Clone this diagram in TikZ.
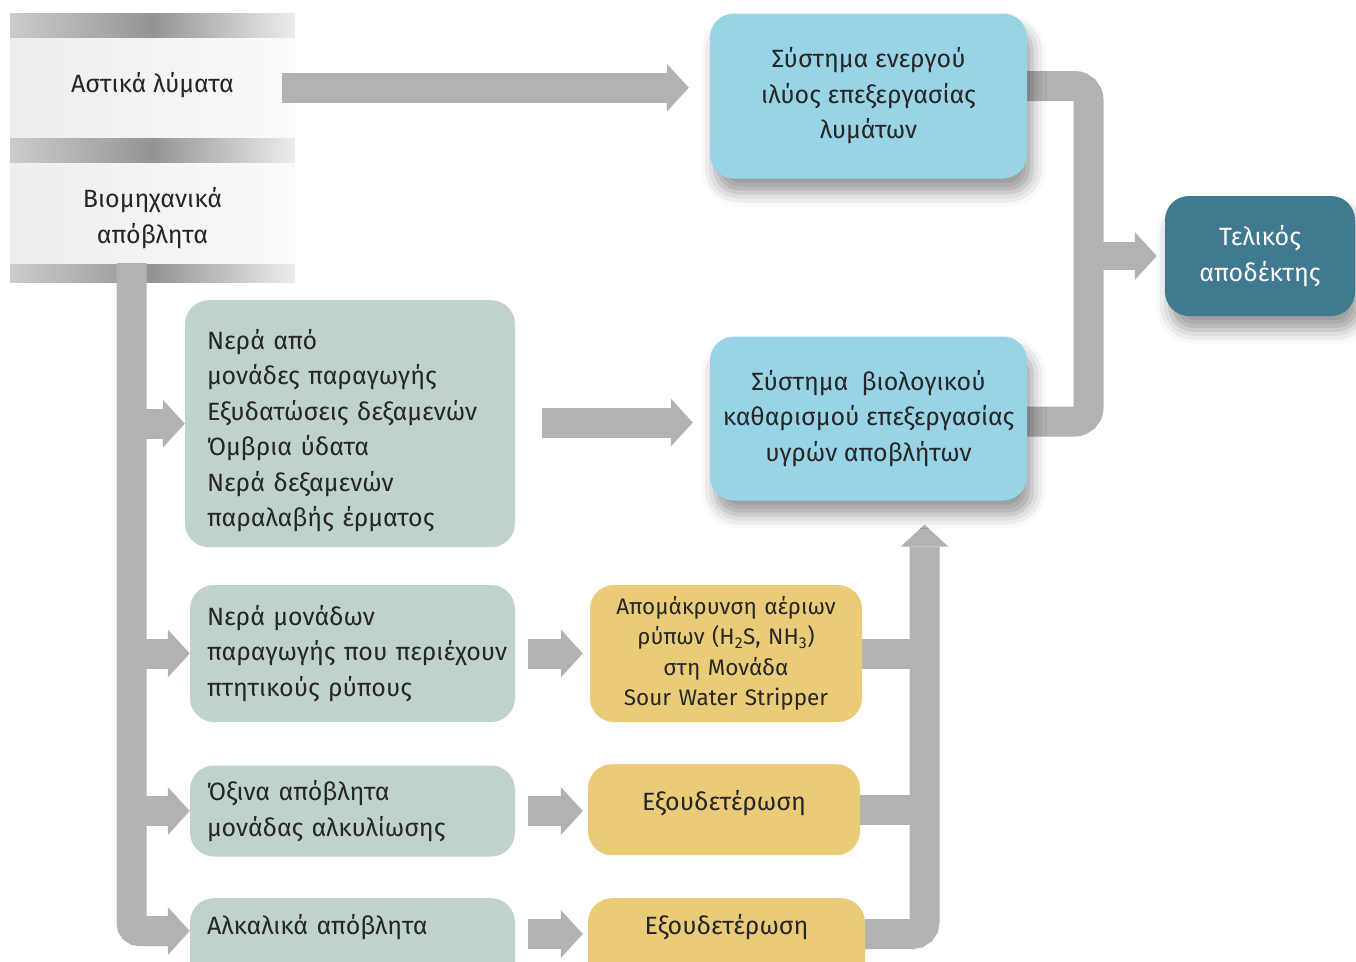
\documentclass[tikz,border=0pt]{standalone}
\usepackage{fontspec}
\setmainfont{Fira Sans}
\usetikzlibrary{arrows.meta,shadows.blur,calc}

\definecolor{conn}{HTML}{B1B2B4}
\definecolor{sage}{HTML}{BFD3CC}
\definecolor{sand}{HTML}{E9CB78}
\definecolor{sky}{HTML}{99D4E6}
\definecolor{teal}{HTML}{3F7A91}
\definecolor{ink}{HTML}{262626}

\pgfdeclarelayer{bg}
\pgfsetlayers{bg,main}

\newcommand\mainsize{\fontsize{25}{35.5}\selectfont}
\newcommand\smallsize{\fontsize{22.5}{30.5}\selectfont}

\tikzset{
  box/.style={rounded corners=24pt, inner ysep=0pt, text=ink, font=\mainsize},
  greenbox/.style={box, fill=sage, align=left, inner xsep=17pt},
  sandbox/.style={box, fill=sand, align=center, inner xsep=8pt, font=\smallsize},
  skybox/.style={box, fill=sky, align=center, inner xsep=8pt,
    blur shadow={shadow xshift=5pt, shadow yshift=-14pt, shadow blur radius=14pt, shadow opacity=40}},
  endbox/.style={skybox, fill=teal, text=white},
  panel/.style={left color=black!7, right color=black!2, inner sep=0pt,
    minimum width=285pt, text=ink, font=\mainsize, align=center, anchor=north},
  band/.style={left color=black!20, right color=black!7, middle color=black!42},
  flow/.style={draw=conn, line width=30pt},
  headed/.style={-{Triangle[width=48pt,length=22pt,line width=0pt]}},
  opentop/.style={text height=28pt, text depth=56pt, inner ysep=8pt}
}

\begin{document}
\begin{tikzpicture}[x=1pt,y=-1pt]
\useasboundingbox (0,0) rectangle (1356,961);

% treatment systems and final receiver
\node[skybox, minimum width=317pt, minimum height=165pt] (b1) at (868.5,96)
  {Σύστημα ενεργού\\ιλύος επεξεργασίας\\λυμάτων};
\node[skybox, minimum width=317pt, minimum height=164pt] (b2) at (868.5,418.5)
  {Σύστημα~ βιολογικού\\καθαρισμού επεξεργασίας\\υγρών αποβλήτων};
\node[endbox, minimum width=190pt, minimum height=120pt] (f) at (1260,256)
  {Τελικός\\αποδέκτης};

% industrial streams
\node[greenbox, text width=286pt, inner xsep=22pt, text height=49pt, text depth=198pt, anchor=north] (g1) at (350,300)
  {Νερά από\\μονάδες παραγωγής\\Εξυδατώσεις δεξαμενών\\Όμβρια ύδατα\\Νερά δεξαμενών\\παραλαβής έρματος};
\node[greenbox, text width=291pt, minimum height=137pt] (g2) at (352.5,653.5)
  {Νερά μονάδων\\\mbox{παραγωγής που περιέχουν}\\πτητικούς ρύπους};
\node[greenbox, text width=291pt, minimum height=91pt] (g3) at (352.5,811)
  {Όξινα απόβλητα\\μονάδας αλκυλίωσης};
\node[greenbox, opentop, text width=291pt, anchor=north] (g4) at (352.5,898)
  {Αλκαλικά απόβλητα};

% pre-treatment units
\node[sandbox, text width=256pt, minimum height=137pt] (y1) at (726,653.5)
  {Απομάκρυνση αέριων\\ρύπων (H\textsubscript{2}S, NH\textsubscript{3})\\στη Μονάδα\\Sour Water Stripper};
\node[sandbox, text width=256pt, text height=38pt, text depth=37pt, inner ysep=8pt, anchor=north, font=\mainsize] (y2) at (724,764)
  {Εξουδετέρωση};
\node[sandbox, opentop, text width=261pt, anchor=north, font=\mainsize] (y3) at (726.5,898)
  {Εξουδετέρωση};

\coordinate (trunk) at (131.5,263);
\coordinate (jl) at (131.5,931);
\coordinate (jb) at (924.5,934);
\coordinate (jr) at (1088.5,256);

\begin{pgfonlayer}{bg}
  % sources
  \fill[band] (10,13) rectangle (295,38);
  \fill[band] (10,137) rectangle (295,163);
  \fill[band] (10,263) rectangle (295,282);
  \node[panel, text height=54pt, text depth=45pt] (u) at (152.5,38) {Αστικά λύματα};
  \node[panel, text height=80pt, text depth=20pt] (ind) at (152.5,163) {Βιομηχανικά\\απόβλητα};

  % flows
  \draw[flow, headed, shorten <=-13pt, shorten >=21pt] (u.east) -- (u.east -| b1.west);
  \draw[flow, headed, shorten <=27pt, shorten >=17pt] (g1.east |- b2.west) ++(0,4) coordinate (m1) -- (m1 -| b2.west);

  \draw[flow, rounded corners=8pt, headed] (trunk) |- (jl -| g4.west);
  \draw[flow, headed] (trunk |- g1.west) -- (g1.west);
  \draw[flow, headed] (trunk |- g2.west) -- (g2.west);
  \draw[flow, headed] (trunk |- g3.west) -- (g3.west);

  \draw[flow, headed, shorten <=13pt, shorten >=7pt] (g2.east) -- (y1.west);
  \draw[flow, headed, shorten <=13pt, shorten >=5pt] (g3.east) -- (g3.east -| y2.west);
  \draw[flow, headed, shorten <=13pt, shorten >=5pt] (g4.east |- jb) -- (y3.west |- jb);

  \draw[flow] (y1.east) -- (y1.east -| jb);
  \draw[flow] (y2.east) -- (y2.east -| jb);
  \draw[flow, rounded corners=12pt, headed, shorten >=24pt] (y3.east |- jb) -| (jb |- b2.south);

  \draw[flow, rounded corners=14pt] ([yshift=10pt]b1.east) -| (jr) |- ([yshift=-3pt]b2.east);
  \draw[flow, line width=28pt, headed, shorten >=8pt] (jr) -- (f.west);
\end{pgfonlayer}
\end{tikzpicture}
\end{document}
